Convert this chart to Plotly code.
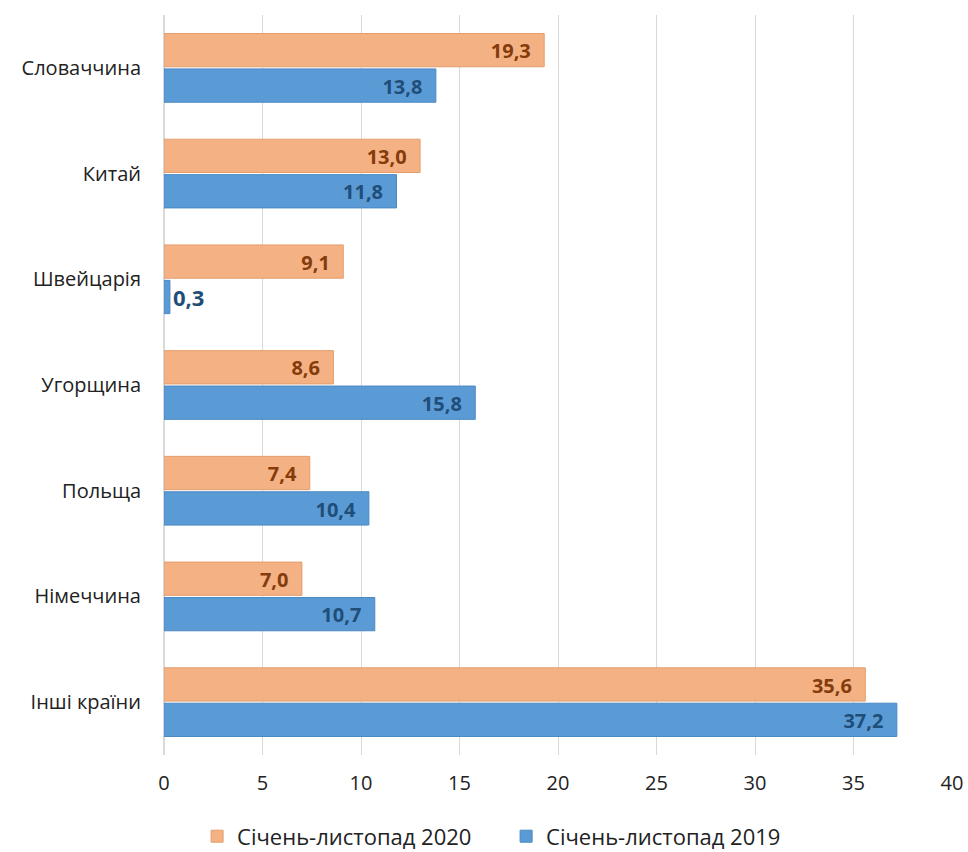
import plotly.graph_objects as go

countries = ['Словаччина', 'Китай', 'Швейцарія', 'Угорщина', 'Польща', 'Німеччина', 'Інші країни']
share_2020 = [19.3, 13.0, 9.1, 8.6, 7.4, 7.0, 35.6]
share_2019 = [13.8, 11.8, 0.3, 15.8, 10.4, 10.7, 37.2]
label_2020 = 'Січень-листопад 2020'
label_2019 = 'Січень-листопад 2019'
x_ticks = [0, 5, 10, 15, 20, 25, 30, 35, 40]

font_family = 'Open Sans, Noto Sans, sans-serif'


def fmt(values):
    # non-breaking spaces keep the label off the bar end
    return [f'{v:.1f}'.replace('.', ',') + '\u00a0\u00a0' for v in values]


def positions(values):
    # tiny bars get their label outside
    return ['outside' if v < 2 else 'inside' for v in values]


fig = go.Figure()
fig.add_trace(go.Bar(y=countries, x=share_2020, orientation='h', name=label_2020,
                     marker={'color': '#F4B183', 'line': {'color': '#E49E6C', 'width': 1}},
                     text=fmt(share_2020), textposition=positions(share_2020),
                     insidetextanchor='end', cliponaxis=False,
                     textfont={'color': '#843C0C', 'size': 22, 'family': font_family, 'weight': 'bold'}))
fig.add_trace(go.Bar(y=countries, x=share_2019, orientation='h', name=label_2019,
                     marker={'color': '#5B9BD5', 'line': {'color': '#4A88C2', 'width': 1}},
                     text=fmt(share_2019), textposition=positions(share_2019),
                     insidetextanchor='end', cliponaxis=False,
                     textfont={'color': '#1F4E79', 'size': 22, 'family': font_family, 'weight': 'bold'}))

fig.update_layout(width=968, height=852,
                  barmode='group', bargap=0.33, bargroupgap=0.06,
                  plot_bgcolor='white', paper_bgcolor='white',
                  font={'family': font_family, 'size': 20, 'color': '#222222'},
                  margin={'l': 164, 'r': 16, 't': 15, 'b': 97, 'autoexpand': False},
                  legend={'orientation': 'h', 'x': 0.042, 'xanchor': 'left',
                          'y': -0.11, 'yanchor': 'middle', 'traceorder': 'normal',
                          'font': {'size': 22}, 'itemwidth': 30,
                          'entrywidth': 264, 'entrywidthmode': 'pixels'},
                  uniformtext={'mode': None})
fig.update_xaxes(range=[0, 40], tickvals=x_ticks, showgrid=True, gridcolor='#D9D9D9',
                 zeroline=True, zerolinecolor='#D9D9D9', showline=False,
                 ticks='', ticklabelstandoff=14, tickfont={'size': 20})
fig.update_yaxes(autorange='reversed', showgrid=False, showline=False, ticks='',
                 ticklabelstandoff=22, tickfont={'size': 20})

# drop the default body margin so the figure fills the window exactly
fig.write_html('out.html', config={'displayModeBar': False},
               post_script="document.body.style.margin = '0';")
